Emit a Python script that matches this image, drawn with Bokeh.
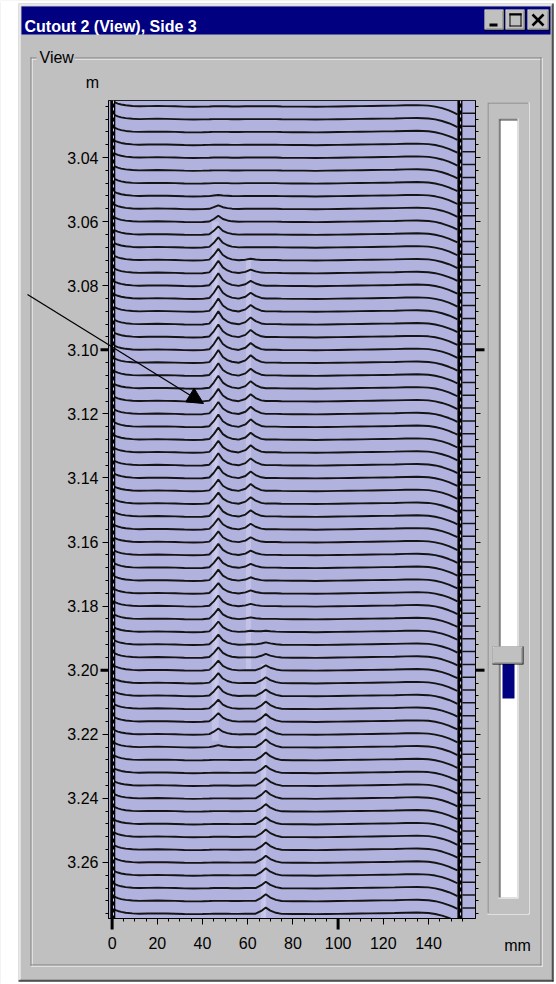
import numpy as np
from bokeh.plotting import figure
from bokeh.models import (Range1d, LinearAxis, FixedTicker, PrintfTickFormatter,
                          CustomJSTickFormatter, Arrow, NormalHead, GridBox)
from bokeh.core.properties import value
from bokeh.embed import file_html
from bokeh.resources import INLINE

# ---------------- data ----------------
# scan positions (m) of the 64 profile traces
trace_pos_m = [3.024, 3.028, 3.032, 3.036, 3.040, 3.044, 3.048, 3.052, 3.056, 3.060,
               3.064, 3.068, 3.072, 3.076, 3.080, 3.084, 3.088, 3.092, 3.096, 3.100,
               3.104, 3.108, 3.112, 3.116, 3.120, 3.124, 3.128, 3.132, 3.136, 3.140,
               3.144, 3.148, 3.152, 3.156, 3.160, 3.164, 3.168, 3.172, 3.176, 3.180,
               3.184, 3.188, 3.192, 3.196, 3.200, 3.204, 3.208, 3.212, 3.216, 3.220,
               3.224, 3.228, 3.232, 3.236, 3.240, 3.244, 3.248, 3.252, 3.256, 3.260,
               3.264, 3.268, 3.272, 3.276]

# sample points across the cutout (mm)
profile_x_mm = [0.8, 1.5, 2.5, 4, 6, 9, 12, 16, 20, 24, 28, 32, 36, 40, 43, 45, 47, 49,
                51, 53, 56, 59, 61.3, 63.5, 66, 68, 70, 72.5, 75, 80, 85, 90, 95, 100,
                105, 110, 115, 120, 125, 130, 135, 140, 143, 146, 149, 151, 152.8]
# common profile height (mm on the position scale)
profile_base_mm = [1.4, 1.15, 0.85, 0.55, 0.3, 0.1, 0.0, 0.05, 0.1, 0.05, 0.0, -0.1, -0.15,
                   -0.1, -0.05, 0, 0, 0, 0, -0.05, -0.05, 0, 0, 0, 0, 0, 0, 0, -0.05,
                   -0.1, -0.1, -0.15, -0.1, -0.05, 0, 0.05, 0.1, 0.15, 0.2, 0.3, 0.35,
                   0.2, -0.1, -0.6, -1.3, -1.9, -2.5]
# shapes of the three ridges on the same sample points
ridge_a_shape = [0]*14 + [0.05, 0.45, 1.0, 0.45, 0.2, 0.08] + [0]*27
ridge_b_shape = [0]*21 + [0.3, 1.0, 0.45, 0.1] + [0]*22
ridge_c_shape = [0]*23 + [0.0, 0.45, 1.0, 0.5, 0.15] + [0]*19
# ridge heights per trace (mm)
ridge_a_height_mm = [0]*7 + [0.3, 1.1, 1.8, 2.5, 3.1, 3.5, 3.8, 3.9, 4.0, 4.0,
                             4.0, 3.9, 4.0, 3.9, 3.8, 3.9, 3.8, 3.7, 3.8, 3.7,
                             3.6, 3.7, 3.6, 3.5, 3.4, 3.5, 3.4, 3.3, 3.4, 3.3,
                             3.4, 3.2, 3.3, 3.2, 3.2, 3.1, 3.1, 3.0, 3.1, 3.0,
                             2.8, 2.6, 1.8, 0.6] + [0]*13
ridge_b_height_mm = [0]*12 + [0.4, 1.0, 1.5, 1.8, 2.0, 2.1, 2.2, 2.1, 2.3, 2.1,
                              2.2, 2.1, 2.2, 2.3, 2.1, 2.2, 2.1, 2.0, 2.1, 2.0,
                              1.9, 1.7, 1.5, 1.3, 1.2, 1.0, 0.9, 0.7, 0.5, 0.3,
                              0.1] + [0]*21
ridge_c_height_mm = [0]*41 + [0.3, 0.7, 1.1, 1.5, 1.8, 2.0, 2.2, 2.3, 2.2, 2.4, 2.3,
                              2.2, 2.3, 2.4, 2.2, 2.1, 2.3, 2.2, 2.1, 2.2, 2.0, 2.1, 1.9]

y_tick_values = [3.04, 3.06, 3.08, 3.10, 3.12, 3.14, 3.16, 3.18, 3.20, 3.22, 3.24, 3.26]
y_bold_ticks = [3.10, 3.20]
x_tick_values = [0, 20, 40, 60, 80, 100, 120, 140]
x_minor_values = [0, 5, 10, 15, 20, 25, 30, 35, 40, 45, 50, 55, 60, 65, 70, 75, 80, 85,
                  90, 95, 100, 105, 110, 115, 120, 125, 130, 135, 140, 145, 150, 155]
x_bold_ticks = [0, 100]

# ---------------- layout constants ----------------
W, H = 556, 984
FRAME_L, FRAME_R, FRAME_T, FRAME_B = 108, 475, 100, 918
X0_MM, X1_MM = -1.6, 160.8
Y_TOP_M, Y_BOTTOM_M = 3.0222, 3.2775
LEFT_EDGE_MM, RIGHT_EDGE_MM, LADDER_MM = 0.3, 153.9, 155.0
LADDER_DROP_M = 0.0022
FONT = "Liberation Sans"
GRAY, NAVY, DARK = "#c0c0c0", "#000080", "#808080"
PX_PER_MM = (FRAME_R - FRAME_L) / (X1_MM - X0_MM)
PX_PER_M = (FRAME_B - FRAME_T) / (Y_BOTTOM_M - Y_TOP_M)

def X_of_mm(v): return FRAME_L + (v - X0_MM) * PX_PER_MM
def Y_of_m(v): return FRAME_T + (v - Y_TOP_M) * PX_PER_M

# ================= chart =================
p = figure(width=W, height=H, x_range=Range1d(X0_MM, X1_MM),
           y_range=Range1d(Y_BOTTOM_M, Y_TOP_M), output_backend="svg",
           toolbar_location=None, min_border_left=FRAME_L, min_border_right=W - FRAME_R,
           min_border_top=FRAME_T, min_border_bottom=H - FRAME_B,
           background_fill_color="#b2b2de", border_fill_color=GRAY,
           outline_line_color="#202020")
p.frame_align = False
p.grid.visible = False

def style_axis(ax, ticks, minor):
    ax.ticker = FixedTicker(ticks=ticks, minor_ticks=minor)
    ax.axis_line_color = "black"
    ax.major_tick_line_color = "black"
    ax.minor_tick_line_color = "black"
    ax.major_tick_in = 0
    ax.minor_tick_in = 0
    ax.major_tick_out = 6
    ax.minor_tick_out = 3
    ax.major_label_text_font = FONT
    ax.major_label_text_font_size = "16px"
    ax.major_label_text_color = "black"

style_axis(p.yaxis[0], y_tick_values, trace_pos_m)
p.yaxis[0].formatter = PrintfTickFormatter(format="%.2f")
p.yaxis[0].major_label_standoff = 4
p.yaxis[0].major_label_text_baseline = "alphabetic"
style_axis(p.xaxis[0], x_tick_values, x_minor_values)
p.xaxis[0].major_label_standoff = 12
right_axis = LinearAxis()
style_axis(right_axis, y_tick_values, trace_pos_m)
right_axis.major_tick_out = 5
right_axis.formatter = CustomJSTickFormatter(code="return ''")
p.add_layout(right_axis, "right")

# lighter bands on the surface along the ridges
p.quad(left=[44.2, 59.2, 65.8, 45.4, 67.0], right=[47.2, 61.5, 68.2, 46.6, 67.9],
       top=[3.060, 3.072, 3.198, 3.070, 3.205], bottom=[3.222, 3.200, Y_BOTTOM_M, 3.214, Y_BOTTOM_M],
       fill_color="#d4d4f4", fill_alpha=0.45, line_alpha=0)

# traces
px = np.array(profile_x_mm)
base = np.array(profile_base_mm)
sa, sb, sc = np.array(ridge_a_shape), np.array(ridge_b_shape), np.array(ridge_c_shape)
xs, ys = [], []
for pos, ha, hb, hc in zip(trace_pos_m, ridge_a_height_mm, ridge_b_height_mm, ridge_c_height_mm):
    h = base + ha * sa + hb * sb + hc * sc
    xs.append(px.tolist())
    ys.append((pos - h / 1000.0).tolist())
p.multi_line(xs, ys, line_color="#141414", line_width=1.9)

# ladder strip at the right
pos = np.array(trace_pos_m)
p.segment(x0=[LADDER_MM] * len(pos), x1=[X1_MM] * len(pos), y0=pos + LADDER_DROP_M,
          y1=pos + LADDER_DROP_M, line_color="#141414", line_width=1.5)
# thick edges
p.segment(x0=[LEFT_EDGE_MM, RIGHT_EDGE_MM], x1=[LEFT_EDGE_MM, RIGHT_EDGE_MM],
          y0=[Y_TOP_M, Y_TOP_M], y1=[Y_BOTTOM_M, Y_BOTTOM_M], line_color="black", line_width=5)
p.segment(x0=[LEFT_EDGE_MM + 0.3, RIGHT_EDGE_MM + 0.3], x1=[LEFT_EDGE_MM + 0.3, RIGHT_EDGE_MM + 0.3],
          y0=[Y_TOP_M, Y_TOP_M], y1=[Y_BOTTOM_M, Y_BOTTOM_M], line_color="#d0d0f0",
          line_width=1, line_dash="3 4")

# ================= window chrome (overlay, pixel coordinates) =================
bg = figure(width=W, height=H, x_range=Range1d(0, W), y_range=Range1d(H, 0),
            output_backend="svg", toolbar_location=None, x_axis_type=None, y_axis_type=None,
            min_border=0, outline_line_color=None, background_fill_alpha=0, border_fill_alpha=0)
bg.frame_align = False
bg.grid.visible = False

def box(X0, Y0, X1, Y1, fill):
    bg.quad(left=[X0], right=[X1], top=[Y0], bottom=[Y1], fill_color=fill, line_alpha=0)

def rect_line(X0, Y0, X1, Y1, color):
    box(X0, Y0, X1, Y0 + 1, color)
    box(X0, Y1 - 1, X1, Y1, color)
    box(X0, Y0, X0 + 1, Y1, color)
    box(X1 - 1, Y0, X1, Y1, color)

def text(t, X, Y, size, bold=False, color="black", align="left", baseline="middle"):
    bg.text(x=[X], y=[Y], text=[t], text_font=value(FONT), text_font_size=value(f"{size}px"),
            text_font_style=value("bold" if bold else "normal"), text_color=color,
            text_align=value(align), text_baseline=value(baseline))

def raised(X0, Y0, X1, Y1):
    box(X0, Y0, X1, Y1, "#000000")
    box(X0, Y0, X1 - 1, Y1 - 1, "#ffffff")
    box(X0 + 1, Y0 + 1, X1 - 1, Y1 - 1, DARK)
    box(X0 + 1, Y0 + 1, X1 - 2, Y1 - 2, GRAY)

def sunken(X0, Y0, X1, Y1, inner):
    box(X0, Y0, X1, Y1, "#ffffff")
    box(X0, Y0, X1 - 1, Y1 - 1, DARK)
    box(X0 + 1, Y0 + 1, X1 - 1, Y1 - 1, inner)

def seg(X0, Y0, X1, Y1, lw=1, color="black"):
    bg.segment(x0=[X0], y0=[Y0], x1=[X1], y1=[Y1], line_color=color, line_width=lw)

# page outside the window
box(0, 0, 18, H, "#ffffff")
box(0, 0, W, 3, "#ffffff")
box(553, 0, W, H, "#ffffff")
box(0, 981, W, H, "#ffffff")
# window border
box(18, 3, 19, 981, "#dcdcdc")
box(19, 4, 20, 980, "#ffffff")
box(18, 3, 553, 4, "#dcdcdc")
box(19, 4, 552, 5, "#ffffff")
box(551, 4, 552, 980, DARK)
box(552, 3, 553, 981, "#000000")
box(19, 979, 552, 980, DARK)
box(18, 980, 553, 981, "#000000")
# title bar
box(21, 6, 550, 34, NAVY)
text("Cutout 2 (View), Side 3", 24, 26, 16, bold=True, color="white", baseline="alphabetic")
# caption buttons
raised(484, 9, 504, 30)
box(489, 23, 497, 26, "#000000")
raised(505, 9, 525, 30)
rect_line(509, 13, 521, 26, "#000000")
box(509, 13, 521, 15, "#000000")
raised(527, 9, 549, 30)
seg(532, 14, 543, 25, lw=2.5)
seg(543, 14, 532, 25, lw=2.5)

# group box
rect_line(31, 58, 542, 966, "#ffffff")
rect_line(30, 57, 541, 965, DARK)
box(36, 52, 74, 62, GRAY)
text("View", 39, 57, 16)
text("m", 92, 82, 16, align="center")
text("mm", 517, 945, 16, align="center")

# slider
sunken(487, 102, 529, 914, GRAY)
sunken(498, 118, 518, 898, "#ffffff")
box(499, 119, 500, 897, "#404040")
box(499, 119, 517, 120, "#404040")
box(502, 663, 514, 698, NAVY)
raised(492, 646, 523, 664)

# bold decade ticks
for v in y_bold_ticks:
    box(FRAME_L - 8, Y_of_m(v) - 1.5, FRAME_L, Y_of_m(v) + 1.5, "#000000")
    box(FRAME_R, Y_of_m(v) - 1.5, FRAME_R + 9, Y_of_m(v) + 1.5, "#000000")
for v in x_bold_ticks:
    box(X_of_mm(v) - 1.5, FRAME_B, X_of_mm(v) + 1.5, FRAME_B + 11, "#000000")

# annotation arrow
bg.add_layout(Arrow(x_start=27, y_start=294, x_end=203, y_end=403,
                    end=NormalHead(size=16, fill_color="black", line_color="black"),
                    line_color="black", line_width=1.3))

layout = GridBox(children=[(p, 0, 0), (bg, 0, 0)])
open("out.html", "w").write(file_html(layout, INLINE))
